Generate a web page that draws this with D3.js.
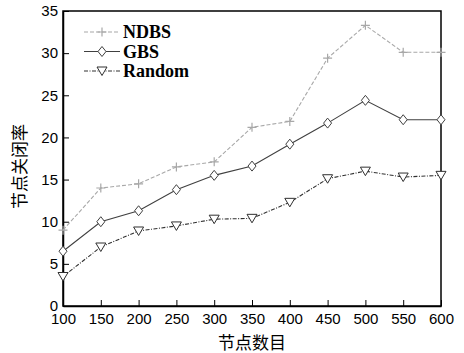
<!DOCTYPE html>
<html>
<head>
<meta charset="utf-8">
<script src="https://cdn.jsdelivr.net/npm/d3@7/dist/d3.min.js"></script>
<style>
  body { margin: 0; background: #fff; }
</style>
</head>
<body>
<div id="chart"></div>
<script>
const nodes = [100, 150, 200, 250, 300, 350, 400, 450, 500, 550, 600];
const ndbs = [9, 14, 14.5, 16.5, 17.1, 21.2, 21.9, 29.4, 33.3, 30.1, 30.1];
const gbs = [6.5, 10, 11.3, 13.8, 15.5, 16.6, 19.2, 21.7, 24.4, 22.1, 22.1];
const random = [3.5, 7, 8.9, 9.5, 10.3, 10.4, 12.3, 15.1, 16, 15.3, 15.5];
const yTicks = [0, 5, 10, 15, 20, 25, 30, 35];

const width = 464, height = 353;
const margin = { top: 11, right: 23, bottom: 47, left: 63 };

const svg = d3.select("#chart").append("svg")
  .attr("width", width)
  .attr("height", height);

const x = d3.scaleLinear().domain([100, 600]).range([margin.left, width - margin.right]);
const y = d3.scaleLinear().domain([0, 35]).range([height - margin.bottom, margin.top]);

// frame
svg.append("rect")
  .attr("x", x(100)).attr("y", y(35))
  .attr("width", x(600) - x(100)).attr("height", y(0) - y(35))
  .attr("fill", "none").attr("stroke", "#000").attr("stroke-width", 1.5);

const xAxis = svg.append("g")
  .attr("transform", `translate(0,${y(0)})`)
  .call(d3.axisBottom(x).tickValues(nodes).tickSizeInner(-6).tickSizeOuter(0).tickPadding(7));
const yAxis = svg.append("g")
  .attr("transform", `translate(${x(100)},0)`)
  .call(d3.axisLeft(y).tickValues(yTicks).tickSizeInner(-6).tickSizeOuter(0).tickPadding(5));

[xAxis, yAxis].forEach(g => {
  g.select(".domain").attr("stroke", "#000").attr("stroke-width", 1.5);
  g.selectAll(".tick line").attr("stroke", "#000");
  g.selectAll("text")
    .attr("font-family", "Liberation Sans, Arial, sans-serif")
    .attr("font-size", 15)
    .attr("fill", "#000");
});

const series = [
  { name: "NDBS", values: ndbs, color: "#a8a8a8", dash: "4,2", marker: "plus" },
  { name: "GBS", values: gbs, color: "#404040", dash: null, marker: "diamond" },
  { name: "Random", values: random, color: "#303030", dash: "4,1.5,1,1.5", marker: "tri" }
];

const line = d3.line().x((d, i) => x(nodes[i])).y(d => y(d));

function drawMarker(g, type, cx, cy, color) {
  if (type === "plus") {
    g.append("path")
      .attr("d", `M${cx - 4.5},${cy}H${cx + 4.5}M${cx},${cy - 4.5}V${cy + 4.5}`)
      .attr("stroke", color).attr("stroke-width", 1.2).attr("fill", "none");
  } else if (type === "diamond") {
    g.append("path")
      .attr("d", `M${cx},${cy - 5}L${cx + 4},${cy}L${cx},${cy + 5}L${cx - 4},${cy}Z`)
      .attr("stroke", color).attr("stroke-width", 1).attr("fill", "#fff");
  } else {
    g.append("path")
      .attr("d", `M${cx - 5},${cy - 4}L${cx + 5},${cy - 4}L${cx},${cy + 4.5}Z`)
      .attr("stroke", color).attr("stroke-width", 1).attr("fill", "#fff");
  }
}

series.forEach(s => {
  svg.append("path")
    .datum(s.values)
    .attr("d", line)
    .attr("fill", "none")
    .attr("stroke", s.color)
    .attr("stroke-width", 1.1)
    .attr("stroke-dasharray", s.dash);
  const mg = svg.append("g");
  s.values.forEach((v, i) => drawMarker(mg, s.marker, x(nodes[i]), y(v), s.color));
});

// legend
const legend = svg.append("g");
series.forEach((s, i) => {
  const ly = 32 + i * 19.5;
  legend.append("line")
    .attr("x1", 84).attr("x2", 120).attr("y1", ly).attr("y2", ly)
    .attr("stroke", s.color).attr("stroke-width", 1.1)
    .attr("stroke-dasharray", s.dash);
  drawMarker(legend, s.marker, 102, ly, s.color);
  legend.append("text")
    .attr("x", 123).attr("y", ly + 6)
    .attr("font-family", "Liberation Serif, Times New Roman, serif")
    .attr("font-size", 18)
    .attr("font-weight", "bold")
    .attr("fill", "#000")
    .text(s.name);
});

// axis titles
svg.append("text")
  .attr("x", (x(100) + x(600)) / 2).attr("y", 349)
  .attr("text-anchor", "middle")
  .attr("font-family", "Noto Sans CJK SC, sans-serif")
  .attr("font-size", 17)
  .attr("fill", "#000")
  .text("节点数目");

svg.append("text")
  .attr("transform", `translate(26,${(y(0) + y(35)) / 2 + 8}) rotate(-90)`)
  .attr("text-anchor", "middle")
  .attr("font-family", "Noto Sans CJK SC, sans-serif")
  .attr("font-size", 17)
  .attr("fill", "#000")
  .text("节点关闭率");
</script>
</body>
</html>
